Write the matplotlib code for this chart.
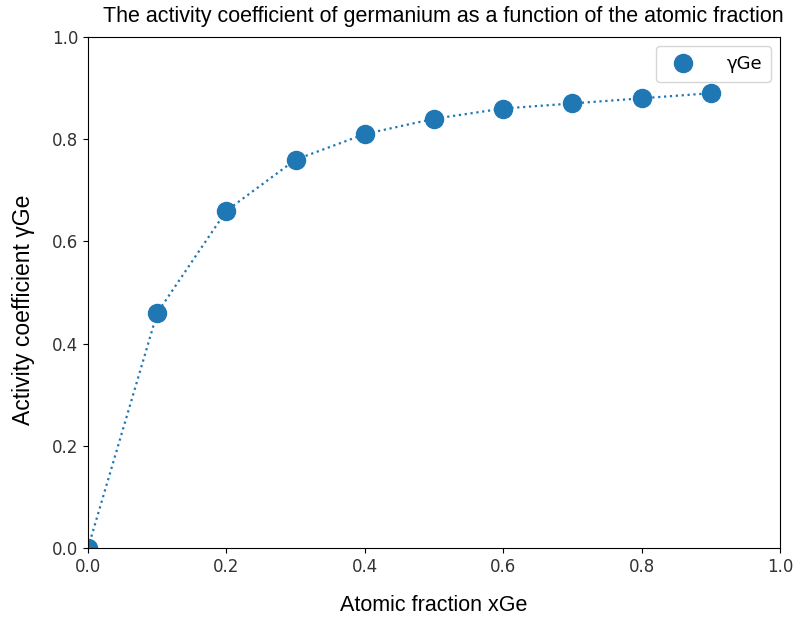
import matplotlib
matplotlib.use("Agg")
import matplotlib.pyplot as plt

x_ge = [0.0, 0.1, 0.2, 0.3, 0.4, 0.5, 0.6, 0.7, 0.8, 0.9]
gamma_ge = [0.0, 0.46, 0.66, 0.76, 0.81, 0.84, 0.86, 0.87, 0.88, 0.89]

fig = plt.figure(figsize=(7.98, 6.18), dpi=100)
ax = fig.add_axes([88 / 798, 1 - 548 / 618, (780 - 88) / 798, (548 - 37) / 618])

ax.plot(x_ge, gamma_ge, ':', color='#1f77b4', lw=1.6)
ax.plot(x_ge, gamma_ge, 'o', color='#1f77b4', ms=13, label='γGe')

ax.set_xlim(0, 1)
ax.set_ylim(0, 1)
ax.tick_params(labelsize=12, labelcolor='#333333')
ax.set_title('The activity coefficient of germanium as a function of the atomic fraction',
             fontsize=15.5, family='Liberation Sans', pad=11, x=0.513)
ax.set_xlabel('Atomic fraction xGe', fontsize=15.5, family='Liberation Sans', labelpad=14)
ax.set_ylabel('Activity coefficient γGe', fontsize=16.5, family='Liberation Sans')
ax.yaxis.set_label_coords(-0.076, 0.466)
ax.legend(loc='upper right', fontsize=13, borderpad=0.5, handletextpad=1.4)

fig.savefig('out.png', dpi=100)
